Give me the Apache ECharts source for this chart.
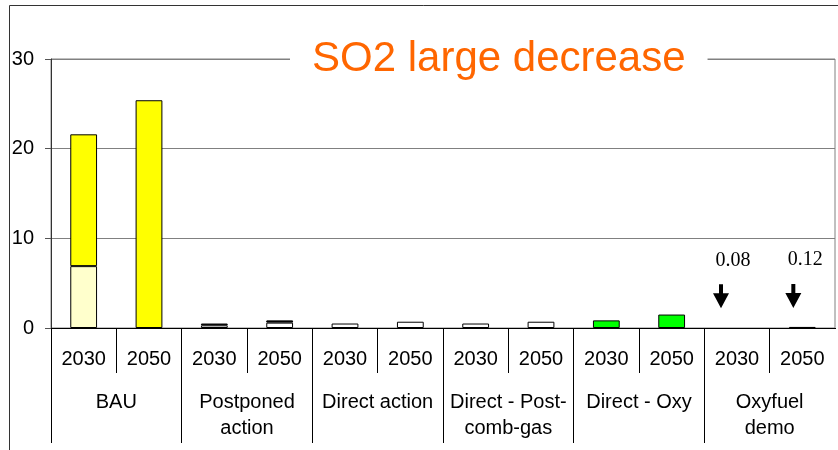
<!DOCTYPE html>
<html>
<head>
<meta charset="utf-8">
<script src="https://cdn.jsdelivr.net/npm/echarts@6/dist/echarts.min.js"></script>
<style>
  html, body { margin: 0; padding: 0; background: #fff; }
  #chart { width: 838px; height: 450px; }
</style>
</head>
<body>
<div id="chart"></div>
<script>
//data
let years = ['2030', '2050', '2030', '2050', '2030', '2050', '2030', '2050', '2030', '2050', '2030', '2050'];
let groups = ['BAU', 'Postponed\naction', 'Direct action', 'Direct - Post-\ncomb-gas', 'Direct - Oxy', 'Oxyfuel\ndemo'];

let lightPart = [6.9, 0, 0, 0, 0, 0, 0, 0, 0, 0, 0, 0];
let yellowPart = [14.7, 25.4, 0, 0, 0, 0, 0, 0, 0, 0, 0, 0];
let whitePart = [0, 0, 0.3, 0.6, 0.5, 0.7, 0.5, 0.7, 0, 0, 0, 0];
let greenPart = [0, 0, 0, 0, 0, 0, 0, 0, 0.85, 1.5, 0, 0];
let blackPart = [0, 0, 0.2, 0.25, 0, 0, 0, 0, 0, 0, 0.08, 0.12];

//small values pointed at with arrows
let notes = [{idx: 10, text: '0.08'}, {idx: 11, text: '0.12'}];

let font = 'Liberation Sans, Arial, sans-serif';
let arrow = 'path://M6,0 L10,0 L10,9 L16,9 L8,24 L0,9 L6,9 Z';

let chart = echarts.init(document.getElementById('chart'));

function makeSeries(name, values, color) {
    return {
        name: name,
        type: 'bar',
        stack: 'total',
        barWidth: '41%',
        xAxisIndex: 0,
        data: values.map(function (v) {
            if (!v) return '-';
            //too small to show in the original
            if (v < 0.1) return {value: v, itemStyle: {borderWidth: 0, opacity: 0}};
            return v;
        }),
        itemStyle: {color: color, borderColor: '#000', borderWidth: 1}
    };
}

let series = [
    makeSeries('light', lightPart, '#FFFFCC'),
    makeSeries('yellow', yellowPart, '#FFFF00'),
    makeSeries('white', whitePart, '#FFFFFF'),
    makeSeries('green', greenPart, '#00FF00'),
    makeSeries('black', blackPart, '#000000')
];

let arrowShift = [[-16, -31], [-9, -31]];
series[4].markPoint = {
    symbol: arrow,
    symbolSize: [16, 24],
    silent: true,
    itemStyle: {color: '#000', opacity: 1},
    label: {
        show: true,
        position: 'top',
        distance: 14,
        offset: [12, 0],
        fontFamily: 'Liberation Serif, Times New Roman, serif',
        fontSize: 20,
        color: '#000'
    },
    data: notes.map(function (n, i) {
        return {
            coord: [n.idx, blackPart[n.idx]],
            value: n.text,
            symbolOffset: arrowShift[i]
        };
    })
};

let option = {
    animation: false,
    backgroundColor: '#fff',
    title: {
        text: 'SO2 large decrease',
        left: 290,
        top: 36,
        padding: [0, 22],
        backgroundColor: '#fff',
        textStyle: {
            color: '#FF6600',
            fontFamily: font,
            fontSize: 42,
            fontWeight: 'normal',
            lineHeight: 46
        }
    },
    grid: {
        left: 51, right: 3, top: 59, bottom: 122,
        show: true,
        borderColor: '#808080',
        borderWidth: 1
    },
    xAxis: [
        {
            type: 'category',
            data: years,
            position: 'bottom',
            boundaryGap: true,
            axisLine: {show: true, lineStyle: {color: '#000', width: 1}},
            axisTick: {show: true, interval: 0, length: 45, lineStyle: {color: '#000', width: 1}},
            axisLabel: {interval: 0, margin: 21, fontSize: 20, fontFamily: font, color: '#000'}
        },
        {
            type: 'category',
            data: groups,
            position: 'bottom',
            boundaryGap: true,
            axisLine: {show: false},
            axisTick: {show: true, interval: 0, length: 115, lineStyle: {color: '#000', width: 1}},
            axisLabel: {interval: 0, margin: 61, fontSize: 20, lineHeight: 26, fontFamily: font, color: '#000'}
        }
    ],
    yAxis: {
        type: 'value',
        min: 0,
        max: 30,
        interval: 10,
        axisLine: {show: true, lineStyle: {color: '#333'}},
        axisTick: {show: true, length: 6, lineStyle: {color: '#555'}},
        axisLabel: {margin: 17, fontSize: 20, fontFamily: font, color: '#000'},
        splitLine: {lineStyle: {color: '#808080', width: 1}}
    },
    graphic: [
        //slide frame lines
        {type: 'line', shape: {x1: 9.5, y1: 5.5, x2: 838, y2: 5.5}, style: {stroke: '#333', lineWidth: 1}},
        {type: 'line', shape: {x1: 9.5, y1: 5.5, x2: 9.5, y2: 450}, style: {stroke: '#333', lineWidth: 1}},
        //hide closing tick on the right below the axis
        {type: 'rect', shape: {x: 833, y: 329, width: 5, height: 121}, style: {fill: '#fff'}, z: 100}
    ],
    series: series
};

chart.setOption(option);
</script>
</body>
</html>
